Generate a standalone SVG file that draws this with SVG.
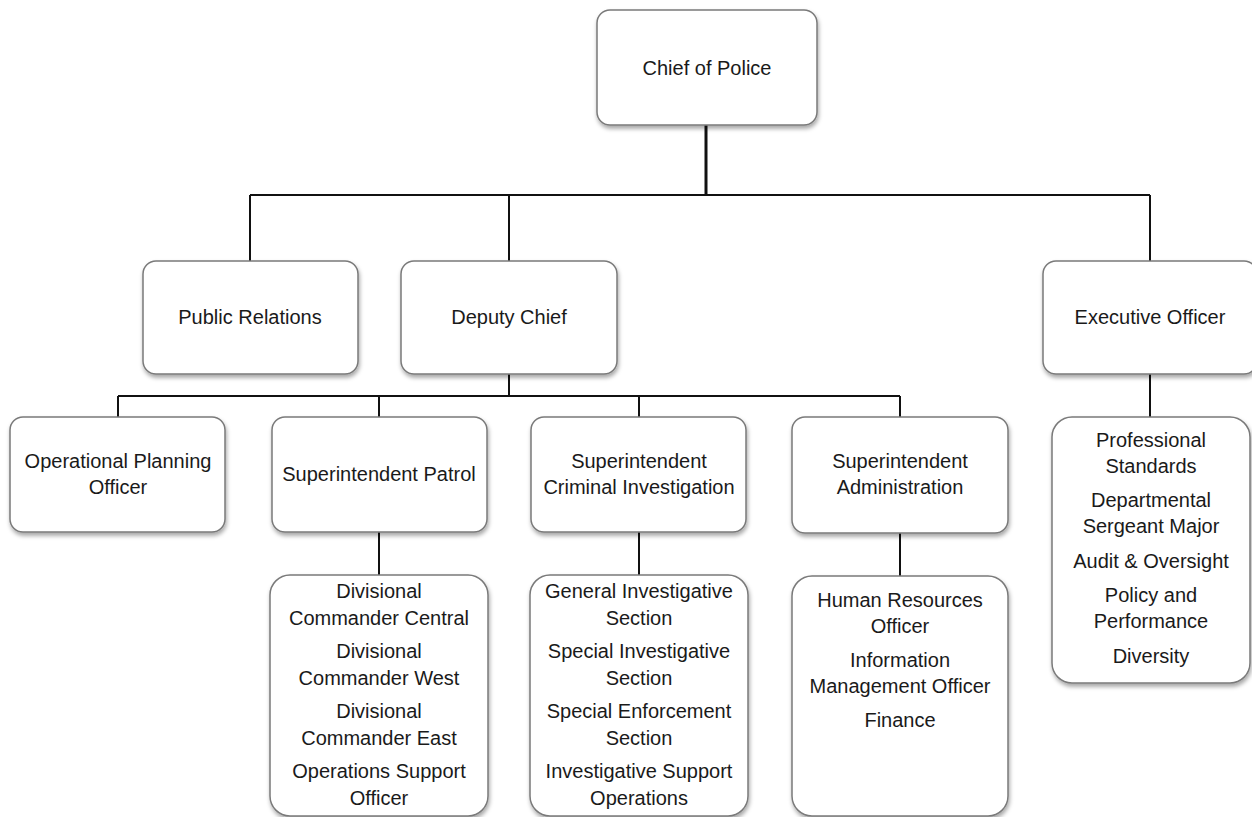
<svg xmlns="http://www.w3.org/2000/svg" width="1252" height="817" viewBox="0 0 1252 817">
  <style>
    .box { fill: #ffffff; stroke: #7a7a7a; stroke-width: 1.5; filter: url(#shadow); }
    .lbl { font-family: "Liberation Sans", Arial, sans-serif; font-size: 20px; fill: #1a1a1a; text-anchor: middle; }
    .wire { fill: none; stroke: #111111; stroke-width: 2; }
    .wire-main { fill: none; stroke: #111111; stroke-width: 3; }
  </style>
  <defs>
    <filter id="shadow" x="-10%" y="-10%" width="130%" height="130%">
      <feDropShadow dx="1" dy="3" stdDeviation="2" flood-color="#000000" flood-opacity="0.35"/>
    </filter>
  </defs>
  <rect width="1252" height="817" fill="#ffffff"/>

  <!-- reporting lines -->
  <g id="connectors">
    <path class="wire-main" d="M706 125 V195"/>
    <path class="wire" d="M250 195 H1150 M250 195 V261 M509 195 V261 M1150 195 V261"/>
    <path class="wire" d="M509 374 V396 M118 396 H900 M118 396 V417 M379 396 V417 M639 396 V417 M900 396 V417"/>
    <path class="wire" d="M1150 374 V417"/>
    <path class="wire" d="M379 532 V575 M639 532 V575 M900 532 V576"/>
  </g>

  <g id="chief">
    <rect class="box" x="597" y="10" width="220" height="115" rx="13"/>
    <text class="lbl" x="707" y="75">Chief of Police</text>
  </g>

  <g id="public-relations">
    <rect class="box" x="143" y="261" width="215" height="113" rx="13"/>
    <text class="lbl" x="250" y="324">Public Relations</text>
  </g>

  <g id="deputy-chief">
    <rect class="box" x="401" y="261" width="216" height="113" rx="13"/>
    <text class="lbl" x="509" y="324">Deputy Chief</text>
  </g>

  <g id="executive-officer">
    <rect class="box" x="1043" y="261" width="214" height="113" rx="13"/>
    <text class="lbl" x="1150" y="324">Executive Officer</text>
  </g>

  <g id="operational-planning">
    <rect class="box" x="10" y="417" width="215" height="115" rx="13"/>
    <text class="lbl" x="118" y="468">Operational Planning</text>
    <text class="lbl" x="118" y="494">Officer</text>
  </g>

  <g id="supt-patrol">
    <rect class="box" x="272" y="417" width="215" height="115" rx="13"/>
    <text class="lbl" x="379" y="481">Superintendent Patrol</text>
  </g>

  <g id="supt-criminal">
    <rect class="box" x="531" y="417" width="215" height="115" rx="13"/>
    <text class="lbl" x="639" y="468">Superintendent</text>
    <text class="lbl" x="639" y="494">Criminal Investigation</text>
  </g>

  <g id="supt-admin">
    <rect class="box" x="792" y="417" width="216" height="116" rx="13"/>
    <text class="lbl" x="900" y="468">Superintendent</text>
    <text class="lbl" x="900" y="494">Administration</text>
  </g>

  <g id="patrol-units">
    <rect class="box" x="270" y="575" width="218" height="241" rx="20"/>
    <text class="lbl" x="379" y="598">Divisional</text>
    <text class="lbl" x="379" y="625">Commander Central</text>
    <text class="lbl" x="379" y="658">Divisional</text>
    <text class="lbl" x="379" y="685">Commander West</text>
    <text class="lbl" x="379" y="718">Divisional</text>
    <text class="lbl" x="379" y="745">Commander East</text>
    <text class="lbl" x="379" y="778">Operations Support</text>
    <text class="lbl" x="379" y="805">Officer</text>
  </g>

  <g id="criminal-units">
    <rect class="box" x="530" y="575" width="218" height="241" rx="20"/>
    <text class="lbl" x="639" y="598">General Investigative</text>
    <text class="lbl" x="639" y="625">Section</text>
    <text class="lbl" x="639" y="658">Special Investigative</text>
    <text class="lbl" x="639" y="685">Section</text>
    <text class="lbl" x="639" y="718">Special Enforcement</text>
    <text class="lbl" x="639" y="745">Section</text>
    <text class="lbl" x="639" y="778">Investigative Support</text>
    <text class="lbl" x="639" y="805">Operations</text>
  </g>

  <g id="admin-units">
    <rect class="box" x="792" y="576" width="216" height="240" rx="20"/>
    <text class="lbl" x="900" y="607">Human Resources</text>
    <text class="lbl" x="900" y="633">Officer</text>
    <text class="lbl" x="900" y="667">Information</text>
    <text class="lbl" x="900" y="693">Management Officer</text>
    <text class="lbl" x="900" y="727">Finance</text>
  </g>

  <g id="executive-units">
    <rect class="box" x="1052" y="417" width="198" height="266" rx="20"/>
    <text class="lbl" x="1151" y="447">Professional</text>
    <text class="lbl" x="1151" y="473">Standards</text>
    <text class="lbl" x="1151" y="507">Departmental</text>
    <text class="lbl" x="1151" y="533">Sergeant Major</text>
    <text class="lbl" x="1151" y="568">Audit &amp; Oversight</text>
    <text class="lbl" x="1151" y="602">Policy and</text>
    <text class="lbl" x="1151" y="628">Performance</text>
    <text class="lbl" x="1151" y="663">Diversity</text>
  </g>
</svg>
